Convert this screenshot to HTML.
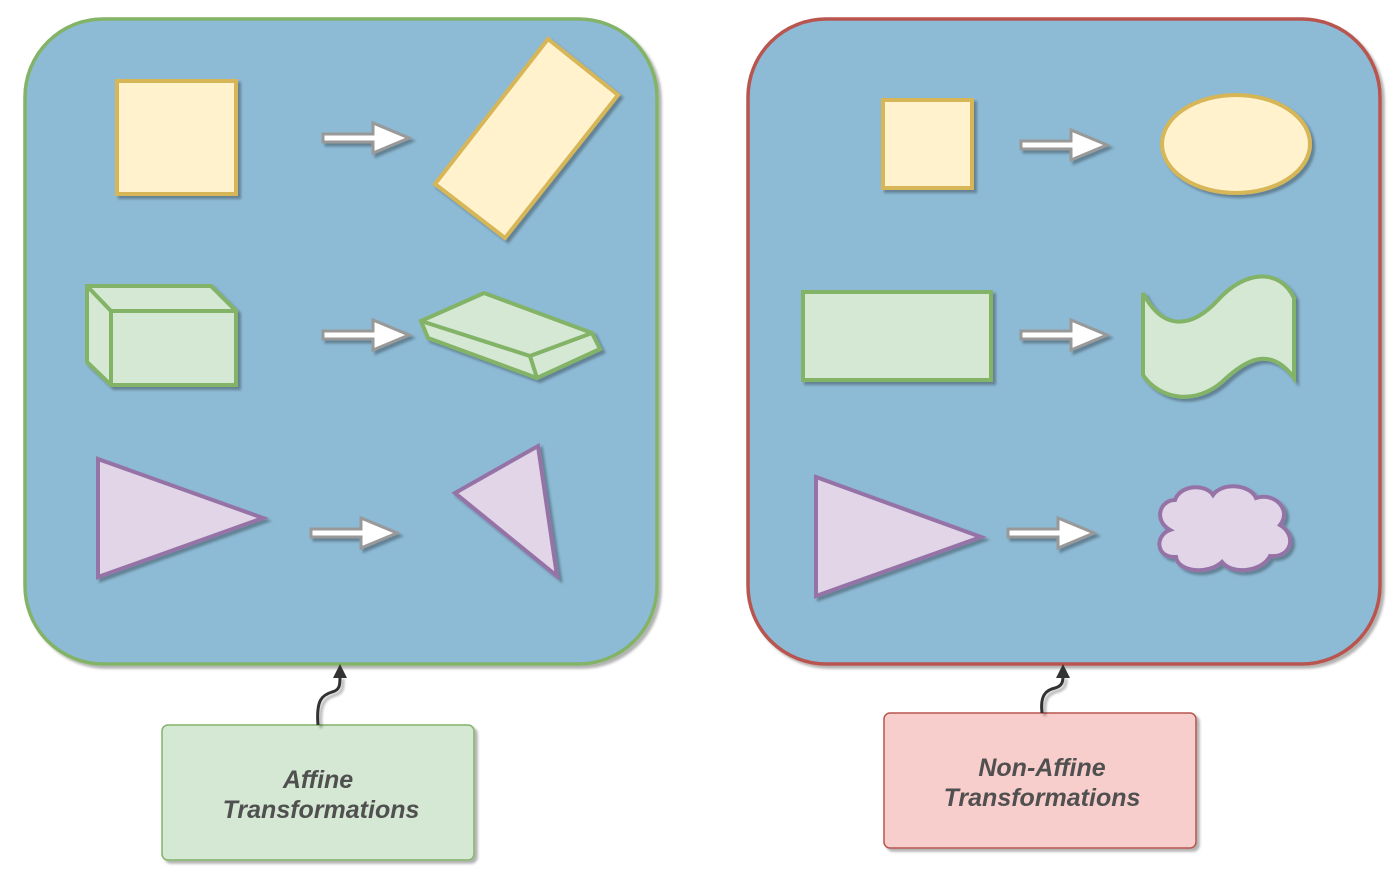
<!DOCTYPE html>
<html><head><meta charset="utf-8"><style>
html,body{margin:0;padding:0;background:#fff;width:1400px;height:881px;overflow:hidden}
text{font-family:"Liberation Sans",sans-serif;font-weight:bold;font-style:italic;font-size:25px;fill:#505050}
</style></head><body>
<svg width="1400" height="881" viewBox="0 0 1400 881" xmlns="http://www.w3.org/2000/svg">
<defs>
<filter id="sh" x="-10%" y="-10%" width="130%" height="130%">
<feDropShadow dx="3" dy="3" stdDeviation="1.2" flood-color="#000" flood-opacity="0.3"/>
</filter>
<g id="arr">
<path d="M0,-4 L50,-4 L50,-15 L86,0 L50,15 L50,4 L0,4 Z" fill="#fff" stroke="#999" stroke-width="3" stroke-linejoin="miter"/>
</g>
</defs>
<rect x="25" y="19" width="632" height="645" rx="78" fill="#8dbad5" stroke="#82b366" stroke-width="3.5" filter="url(#sh)"/>
<rect x="748" y="19" width="632" height="645" rx="78" fill="#8dbad5" stroke="#b85450" stroke-width="3.5" filter="url(#sh)"/>

<g filter="url(#sh)" stroke-width="4" stroke-linejoin="miter">
<rect x="117" y="81" width="119" height="113" fill="#fff2cc" stroke="#d6b656"/>
<polygon points="548,39 618,95 505,238 435,184" fill="#fff2cc" stroke="#d6b656"/>
<g fill="#d5e8d4" stroke="#82b366">
<polygon points="87,286 211,286 236,311 236,385 111,385 87,362"/>
<polyline points="87,286 111,311 236,311" fill="none"/>
<line x1="111" y1="311" x2="111" y2="385"/>
<polygon points="421,321 484,293 592,333 600,349 537,378 428,338"/>
<polyline points="421,321 530,356 592,333" fill="none"/>
<line x1="530" y1="356" x2="537" y2="378"/>
</g>
<polygon points="98,459 263,518 98,577" fill="#e1d5e7" stroke="#9673a6"/>
<polygon points="455,493 538,446 557,576" fill="#e1d5e7" stroke="#9673a6"/>
<rect x="883" y="100" width="89" height="88" fill="#fff2cc" stroke="#d6b656"/>
<ellipse cx="1236" cy="144" rx="74" ry="49" fill="#fff2cc" stroke="#d6b656"/>
<rect x="803" y="292" width="188" height="88" fill="#d5e8d4" stroke="#82b366"/>
<path d="M1143,293 C1165,335 1195,325 1218,300 C1245,270 1280,268 1294,298 L1294,378 C1270,345 1245,360 1222,382 C1195,405 1160,400 1143,375 Z" fill="#d5e8d4" stroke="#82b366"/>
<polygon points="816,477 981,537 816,596" fill="#e1d5e7" stroke="#9673a6"/>
<path d="M1175,500 C1180,485 1205,483 1213,495 C1222,482 1250,484 1256,498 C1275,492 1292,510 1280,525 C1297,535 1292,558 1270,556 C1262,572 1232,575 1222,562 C1208,575 1178,572 1176,557 C1155,558 1155,535 1170,530 C1153,520 1160,500 1175,500 Z" fill="#e1d5e7" stroke="#9673a6"/>
</g>

<g filter="url(#sh)">
<use href="#arr" transform="translate(323,138)"/>
<use href="#arr" transform="translate(323,335)"/>
<use href="#arr" transform="translate(311,533)"/>
<use href="#arr" transform="translate(1021,145)"/>
<use href="#arr" transform="translate(1021,335)"/>
<use href="#arr" transform="translate(1008,533)"/>
</g>

<rect x="162" y="725" width="312" height="135" rx="6" fill="#d5e8d4" stroke="#82b366" stroke-width="1.5" filter="url(#sh)"/>
<text x="318" y="788" text-anchor="middle">Affine</text>
<text x="321" y="818" text-anchor="middle">Transformations</text>
<rect x="884" y="713" width="312" height="135" rx="6" fill="#f8cecc" stroke="#b85450" stroke-width="1.5" filter="url(#sh)"/>
<text x="1042" y="776" text-anchor="middle">Non-Affine</text>
<text x="1042" y="806" text-anchor="middle">Transformations</text>

<g fill="none" stroke="#333" stroke-width="3" filter="url(#sh)">
<path d="M318,725 C316,700 322,695 332,692 C340,690 340,685 340,676"/>
<path d="M1042,713 C1040,695 1046,690 1055,688 C1062,686 1063,682 1063,676"/>
</g>
<polygon points="340,664 347,678 333,678" fill="#333"/>
<polygon points="1063,664 1070,678 1056,678" fill="#333"/>
</svg>
</body></html>
